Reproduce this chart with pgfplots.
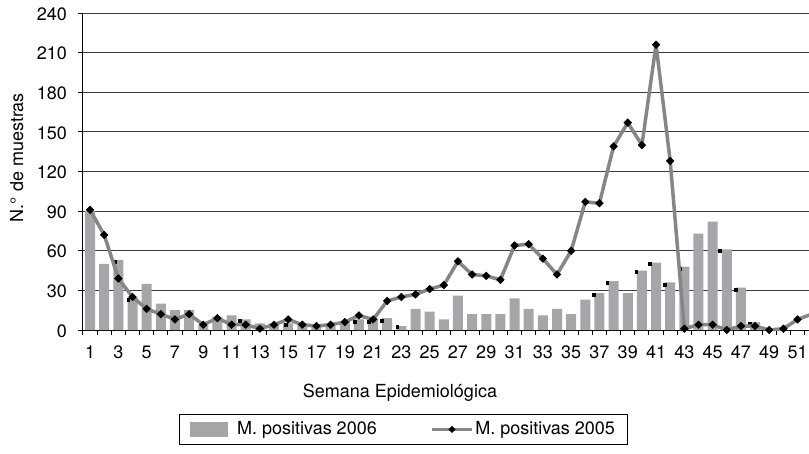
\documentclass[border=0pt]{standalone}
\usepackage{fontspec}
\setmainfont{TeX Gyre Heros}
\usepackage{pgfplots}
\pgfplotsset{compat=1.18}

\definecolor{barcol}{RGB}{166,166,170}
\definecolor{linecol}{RGB}{134,134,134}
\definecolor{gridcol}{RGB}{60,60,60}

\pgfplotsset{
    bar legend/.style={legend image code/.code={%
        \fill[barcol] (0pt,-7.5pt) rectangle (38pt,7.5pt); \path (45pt,0pt);}},
    dot line legend/.style={legend image code/.code={%
        \draw[mark repeat=2, mark phase=2, ##1, line width=2.5pt, mark size=2.2pt]
            plot coordinates {(0pt,0pt) (20pt,0pt) (40pt,0pt)};}},
}

\begin{document}
\fontsize{18}{21}\selectfont
\begin{tikzpicture}
\useasboundingbox (-83pt,-123pt) rectangle (726pt,330pt);
\begin{axis}[
    at={(0pt,0pt)}, anchor=south west,
    scale only axis, width=726pt, height=317pt,
    xmin=0.5, xmax=51.81,
    ymin=0, ymax=240,
    axis lines*=left,
    axis line style={-, black, line width=1pt},
    ytick={0,30,...,240},
    minor ytick={0,30,...,240},
    xtick={1,3,...,51},
    minor xtick={0.5,1.5,...,51.5},
    tick align=outside,
    major tick length=0pt,
    minor tick length=5pt,
    minor tick style={black, line width=1pt},
    ymajorgrids=true,
    grid style={gridcol, line width=1pt},
    /pgf/number format/assume math mode=true,
    xticklabel style={anchor=base, inner sep=0pt, yshift=-28pt},
    yticklabel style={anchor=east, inner sep=0pt, xshift=-16pt, yshift=-1pt},
    xlabel={Semana Epidemiológica},
    ylabel={N.° de muestras},
    xlabel style={at={(axis description cs:0.4366,-0.2145)}, anchor=base},
    ylabel style={at={(axis description cs:-0.0826,0.544)}, anchor=base},
    clip mode=individual,
    legend columns=2,
    legend style={
        at={(axis description cs:0.4415,-0.265)}, anchor=north,
        draw=black, line width=1pt,
        inner xsep=11pt, inner ysep=5pt,
        cells={anchor=west},
        nodes={inner sep=2pt},
        /tikz/every even column/.append style={column sep=52pt},
    },
]

% M. positivas 2006
\addplot[ybar, bar width=10pt, fill=barcol, draw=none, bar legend]
    coordinates {
        (1,90) (2,50) (3,53) (4,25) (5,35) (6,20) (7,15) (8,15) (9,4) (10,10)
        (11,11) (12,8) (13,5) (14,5) (15,5) (16,5) (17,4) (18,3) (19,7) (20,8)
        (21,9) (22,9) (23,3) (24,16) (25,14) (26,8) (27,26) (28,12) (29,12) (30,12)
        (31,24) (32,16) (33,11) (34,16) (35,12) (36,23) (37,28) (38,37) (39,28) (40,45)
        (41,51) (42,36) (43,48) (44,73) (45,82) (46,61) (47,32) (48,6) (49,1) (50,0)
        (51,0) (52,0)
    };
\addlegendentry{M. positivas 2006}

% small black ticks sitting on some of the bars
\addplot[only marks, mark=square*, mark size=1.4pt, black, forget plot]
    coordinates {
        (2.76,52) (3.7,23) (11.6,7) (14.8,4) (19.7,6) (20.7,6) (21.6,7) (22.7,2.5)
        (36.6,26.5) (37.55,36) (39.6,44) (40.57,50.5) (41.6,34.6) (42.7,46.7)
        (45.5,60) (46.65,30.8) (47.6,5)
    };

% M. positivas 2005
\addplot[linecol, line width=3.5pt, line join=round, mark=square*, mark size=2.7pt,
    mark options={rotate=45, fill=black, draw=black, line width=0.5pt, line join=miter},
    dot line legend]
    coordinates {
        (1,91) (2,72) (3,39) (4,25) (5,16) (6,12) (7,8) (8,12) (9,4) (10,9)
        (11,4) (12,4) (13,1) (14,4) (15,8) (16,4) (17,3) (18,4) (19,6) (20,11)
        (21,8) (22,22) (23,25) (24,27) (25,31) (26,34) (27,52) (28,42) (29,41) (30,38)
        (31,64) (32,65) (33,54) (34,42) (35,60) (36,97) (37,96) (38,139) (39,157) (40,140)
        (41,216) (42,128) (43,1) (44,4) (45,4) (46,0) (47,3) (48,3) (49,0) (50,1)
        (51,8) (52,12)
    };
\addlegendentry{M. positivas 2005}

\end{axis}
\end{tikzpicture}
\end{document}
